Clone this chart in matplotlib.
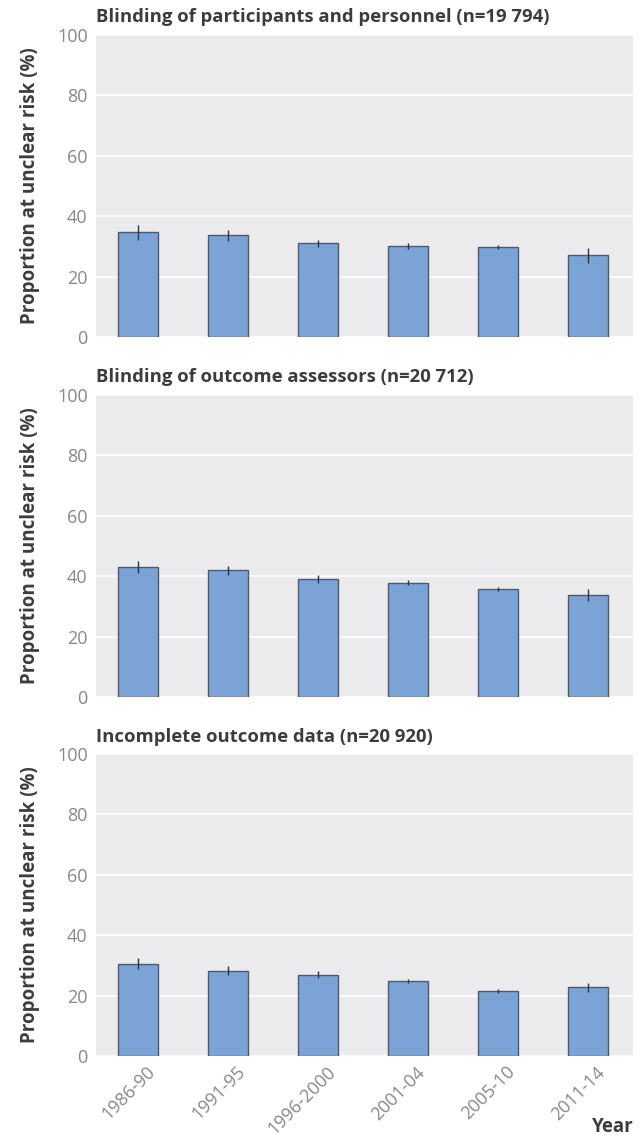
import matplotlib.pyplot as plt
import matplotlib.transforms as mtransforms
import numpy as np

periods = ['1986-90', '1991-95', '1996-2000', '2001-04', '2005-10', '2011-14']

titles = ['Blinding of participants and personnel (n=19 794)',
          'Blinding of outcome assessors (n=20 712)',
          'Incomplete outcome data (n=20 920)']

blinding_part = [34.7, 33.7, 31.0, 30.2, 29.8, 27.1]
blinding_part_err = [2.5, 1.8, 1.2, 1.0, 0.8, 2.5]

blinding_outc = [42.9, 42.0, 39.1, 37.8, 35.7, 33.8]
blinding_outc_err = [2.0, 1.5, 1.2, 0.8, 0.6, 2.0]

incomplete = [30.6, 28.3, 26.9, 24.9, 21.6, 22.7]
incomplete_err = [1.8, 1.5, 1.2, 0.7, 0.6, 1.5]

values = [blinding_part, blinding_outc, incomplete]
errors = [blinding_part_err, blinding_outc_err, incomplete_err]

plt.rcParams['font.family'] = ['Open Sans', 'DejaVu Sans']

fig = plt.figure(figsize=(6.44, 11.38), dpi=100)

left, width, height = 96 / 644, (633 - 96) / 644, 302 / 1138
bottoms = [1 - 337 / 1138, 1 - 697 / 1138, 1 - 1056 / 1138]

x = np.arange(len(periods))
for i in range(3):
    ax = fig.add_axes([left, bottoms[i], width, height])
    ax.set_facecolor('#ebebed')
    for s in ax.spines.values():
        s.set_visible(False)
    ax.set_yticks([0, 20, 40, 60, 80, 100])
    ax.yaxis.grid(True, color='white', linewidth=1.2)
    ax.set_axisbelow(True)
    ax.bar(x, values[i], width=0.44, color='#7ba3d6', edgecolor='#4f5a66', linewidth=1.0)
    ax.errorbar(x, values[i], yerr=errors[i], fmt='none', ecolor='#333333', elinewidth=1.0, capsize=0)
    ax.set_xlim(-0.47, 5.5)
    ax.set_ylim(0, 100)
    ax.tick_params(axis='both', length=0, labelcolor='#888888', labelsize=13)
    ax.tick_params(axis='y', pad=6)
    ax.set_ylabel('Proportion at unclear risk (%)', fontsize=13.5, fontweight='bold', color='#3c3c3c', labelpad=12)
    ax.set_title(titles[i], loc='left', fontsize=13.3, fontweight='bold', color='#3c3c3c', pad=9)
    if i == 2:
        ax.set_xticks(x)
        ax.set_xticklabels(periods, rotation=45, ha='right', rotation_mode='anchor')
        ax.tick_params(axis='x', pad=5)
        shift = mtransforms.ScaledTranslation(8 / 100, 0, fig.dpi_scale_trans)
        for lab in ax.get_xticklabels():
            lab.set_transform(lab.get_transform() + shift)
    else:
        ax.set_xticks([])

fig.text(634 / 644, 1 - 1127 / 1138, 'Year', ha='right', va='center', fontsize=13.5, fontweight='bold', color='#3c3c3c')

fig.savefig('out.png', dpi=100)
